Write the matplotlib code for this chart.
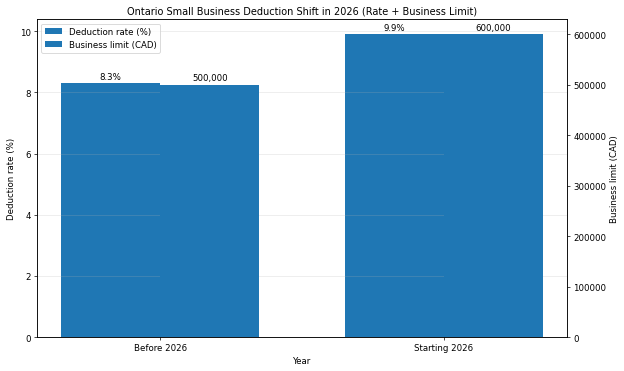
import matplotlib
matplotlib.use('Agg')
import matplotlib.pyplot as plt
import numpy as np

years = ['Before 2026', 'Starting 2026']
rates = [8.3, 9.9]
limits = [500000, 600000]

x = np.arange(len(years))
width = 0.35

fig, ax1 = plt.subplots(figsize=(10, 5.96), dpi=62.4)
ax2 = ax1.twinx()

b1 = ax1.bar(x - width / 2, rates, width, label='Deduction rate (%)')
b2 = ax2.bar(x + width / 2, limits, width, label='Business limit (CAD)')

ax1.set_ylim(0, max(rates) * 1.05)
ax2.set_ylim(0, max(limits) * 1.05)

ax1.set_xticks(x)
ax1.set_xticklabels(years)
ax1.set_xlabel('Year')
ax1.set_ylabel('Deduction rate (%)')
ax2.set_ylabel('Business limit (CAD)')
ax1.set_title('Ontario Small Business Deduction Shift in 2026 (Rate + Business Limit)', fontsize=11.2)
ax1.grid(axis='y', alpha=0.3)

for bar, v in zip(b1, rates):
    ax1.annotate(f'{v:.1f}%', (bar.get_x() + bar.get_width() / 2, bar.get_height()),
                 xytext=(0, 3), textcoords='offset points', ha='center', va='bottom')
for bar, v in zip(b2, limits):
    ax2.annotate(f'{v:,}', (bar.get_x() + bar.get_width() / 2, bar.get_height()),
                 xytext=(0, 3), textcoords='offset points', ha='center', va='bottom')

h1, l1 = ax1.get_legend_handles_labels()
h2, l2 = ax2.get_legend_handles_labels()
ax1.legend(h1 + h2, l1 + l2, loc='upper left')

fig.subplots_adjust(left=0.059, right=0.909, top=0.946, bottom=0.091)
fig.savefig('out.png')
